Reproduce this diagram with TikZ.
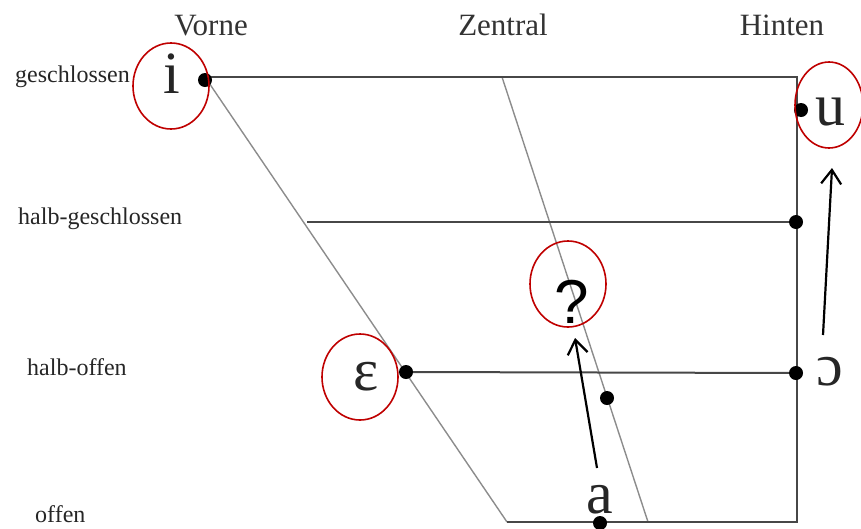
\documentclass[tikz,border=0pt]{standalone}
\usepackage{fontspec}
\setmainfont{Liberation Serif}
\newfontfamily\qfont{Liberation Sans}
\usetikzlibrary{arrows.meta}
\begin{document}
\begin{tikzpicture}[x=1pt,y=-1pt,
  frame/.style={draw=black!72,line width=2pt},
  diag/.style={draw=black!45,line width=1.4pt},
  vdot/.style={circle,fill=black,inner sep=0pt,minimum size=14pt},
  head/.style={font=\fontsize{31}{31}\selectfont,text=black!80,anchor=base,inner sep=0pt},
  lab/.style={font=\fontsize{24}{24}\selectfont,text=black!85,anchor=base west,inner sep=0pt},
  ipa/.style={font=\fontsize{60}{60}\selectfont,text=black!85,anchor=base,inner sep=0pt},
  redmark/.style={draw=red!75!black,line width=1.6pt},
  pointer/.style={draw=black,line width=2.2pt,-{Straight Barb[length=14pt,width=20pt,line width=2.2pt]}}
]
\useasboundingbox (0,0) rectangle (861,528);
% corner coordinates
\coordinate (TL) at (205,77);
\coordinate (TR) at (797,77);
\coordinate (BR) at (797,522);
\coordinate (BL) at (507,522);
\coordinate (MT) at (502,77);
\coordinate (MB) at (648,522);
\coordinate (HGL) at (307,222);
\coordinate (HGR) at (797,222);
% lines
\draw[diag] (TL) -- (BL);
\draw[diag] (MT) -- (MB);
\draw[frame] (TL) -- (TR) -- (BR) -- (BL);
\draw[frame] (HGL) -- (HGR);
% dots
\node[vdot] (di) at (205,80) {};
\node[vdot] (du) at (801,110) {};
\node[vdot] (dhg) at (796,222) {};
\node[vdot] (de) at (406,372) {};
\node[vdot] (do) at (796,373) {};
\node[vdot] (dm) at (607,398) {};
\node[vdot] (da) at (600,523) {};
\draw[frame] (de) -- (do);
% headers
\node[head] (vorne) at (211,35) {Vorne};
\node[head] (zentral) at (503,35) {Zentral};
\node[head] (hinten) at (782,35) {Hinten};
% row labels
\node[lab] (l1) at (15,82) {geschlossen};
\node[lab] (l2) at (18,224) {halb-geschlossen};
\node[lab] (l3) at (27,375) {halb-offen};
\node[lab] (l4) at (35,522) {offen};
% vowels
\node[ipa] (vi) at (172,93) {i};
\node[ipa] (vu) at (830,125) {u};
\node[ipa] (ve) at (366,390) {ɛ};
\node[ipa] (vo) at (830,385) {ɔ};
\node[ipa] (va) at (600,513) {a};
\node[font=\qfont\fontsize{62}{62}\selectfont,anchor=base,inner sep=0pt] (q) at (572,323) {?};
% red ellipses
\draw[redmark] (171,86) ellipse [x radius=38,y radius=43];
\draw[redmark] (829,105) ellipse [x radius=34,y radius=43];
\draw[redmark] (360,377) ellipse [x radius=38,y radius=43];
\draw[redmark] (568,284) ellipse [x radius=38,y radius=43];
% arrows
\coordinate (a1s) at (597,468);
\coordinate (a1e) at (575,338);
\coordinate (a2s) at (823,335);
\coordinate (a2e) at (832,168);
\draw[pointer] (a1s) -- (a1e);
\draw[pointer] (a2s) -- (a2e);
\end{tikzpicture}
\end{document}
